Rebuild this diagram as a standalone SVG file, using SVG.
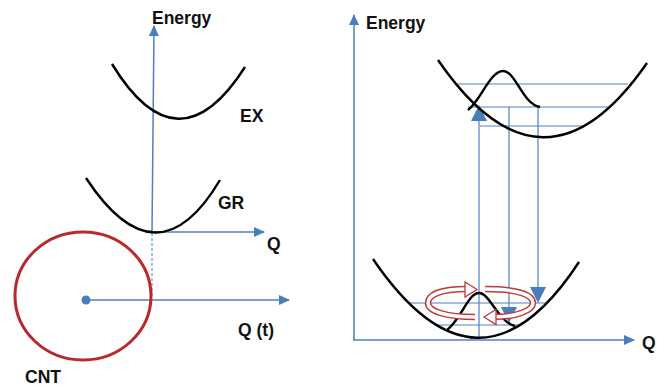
<svg xmlns="http://www.w3.org/2000/svg" width="669" height="390" viewBox="0 0 669 390">
<defs>
<style>
.ax{stroke:#4f81bd;stroke-width:1.5;fill:none}
.ln{stroke:#4f81bd;stroke-width:1.2;fill:none}
.cv{stroke:#000;stroke-width:2.4;fill:none}
.lb{font-family:"Liberation Sans",Arial,sans-serif;font-weight:bold;font-size:17.5px;fill:#111}
.tri{fill:#4a7ebb}
</style>
<marker id="ah" markerWidth="11" markerHeight="10" refX="10" refY="5" orient="auto" markerUnits="userSpaceOnUse">
<path d="M0,0 L11,5 L0,10 Z" fill="#4a7ebb"/>
</marker>
</defs>
<rect width="669" height="390" fill="#fff"/>

<g id="connectors">
<line class="ax" x1="152" y1="233" x2="154" y2="26" marker-end="url(#ah)"/>
<line class="ax" x1="152" y1="232" x2="264" y2="232" marker-end="url(#ah)"/>
<line x1="152" y1="233" x2="152" y2="298" stroke="#4f81bd" stroke-width="1" stroke-dasharray="3,2"/>
<line class="ax" x1="86" y1="300" x2="289" y2="300" marker-end="url(#ah)"/>
<line class="ax" x1="354" y1="340" x2="354" y2="15" marker-end="url(#ah)"/>
<line class="ax" x1="353" y1="340" x2="634" y2="340" marker-end="url(#ah)"/>
<line class="ln" x1="457" y1="84" x2="628" y2="84"/>
<line class="ln" x1="468" y1="107" x2="608" y2="107"/>
<line class="ln" x1="480" y1="126" x2="582" y2="126"/>
<line class="ln" x1="408" y1="303" x2="548" y2="303"/>
<line class="ln" x1="437" y1="325" x2="522" y2="325"/>
<line class="ln" x1="479" y1="119" x2="479" y2="338"/>
<line class="ln" x1="509" y1="107" x2="509" y2="308"/>
<line class="ln" x1="538" y1="107" x2="538" y2="288"/>
<polygon class="tri" points="479,105 471,121 487,121"/>
<polygon class="tri" points="501,307 517,307 509,323"/>
<polygon class="tri" points="530,287 546,287 538,303"/>
</g>

<g id="cnt">
<ellipse cx="83" cy="296" rx="68" ry="64" fill="none" stroke="#b8282c" stroke-width="3"/>
<circle cx="86" cy="300" r="4.5" fill="#4a7ebb"/>
<text class="lb" x="25" y="383">CNT</text>
</g>

<g id="ex">
<path class="cv" d="M112,64 Q178,172 245,67"/>
<text class="lb" x="240" y="122">EX</text>
</g>
<g id="gr">
<path class="cv" d="M86,178 Q157,286 220,180"/>
<text class="lb" x="218" y="209">GR</text>
</g>
<g id="left-labels">
<text class="lb" x="152" y="24">Energy</text>
<text class="lb" x="267" y="250">Q</text>
<text class="lb" x="238" y="336">Q (t)</text>
</g>

<g id="upper-well">
<path class="cv" d="M438,60 Q543,213 647,63"/>
<path class="cv" d="M468,110 C481,100 490,71 503,71 C516,71 522,104 540,107"/>
</g>
<g id="lower-well">
<path class="cv" d="M373,259 Q479,415 579,262"/>
<path class="cv" d="M447,330 C461,320 468,293 479,293 C490,293 498,322 515,326"/>
</g>

<g id="rotation">
<path d="M467,289 C440,289 428,295 428,303 C428,311 445,317 475,317" fill="none" stroke="#c0393b" stroke-width="6.5"/>
<path d="M467,289 C440,289 428,295 428,303 C428,311 445,317 475,317" fill="none" stroke="#fff" stroke-width="3.5"/>
<polygon points="465,282 477,289.5 465,297" fill="#fff" stroke="#c0393b" stroke-width="1.3"/>
<path d="M485,289 C518,289 533,295 533,303 C533,311 515,317 494,317" fill="none" stroke="#c0393b" stroke-width="6.5"/>
<path d="M485,289 C518,289 533,295 533,303 C533,311 515,317 494,317" fill="none" stroke="#fff" stroke-width="3.5"/>
<polygon points="496,309.5 484,317 496,324.5" fill="#fff" stroke="#c0393b" stroke-width="1.3"/>
</g>

<g id="right-labels">
<text class="lb" x="366" y="29">Energy</text>
<text class="lb" x="642" y="349">Q</text>
</g>
</svg>
